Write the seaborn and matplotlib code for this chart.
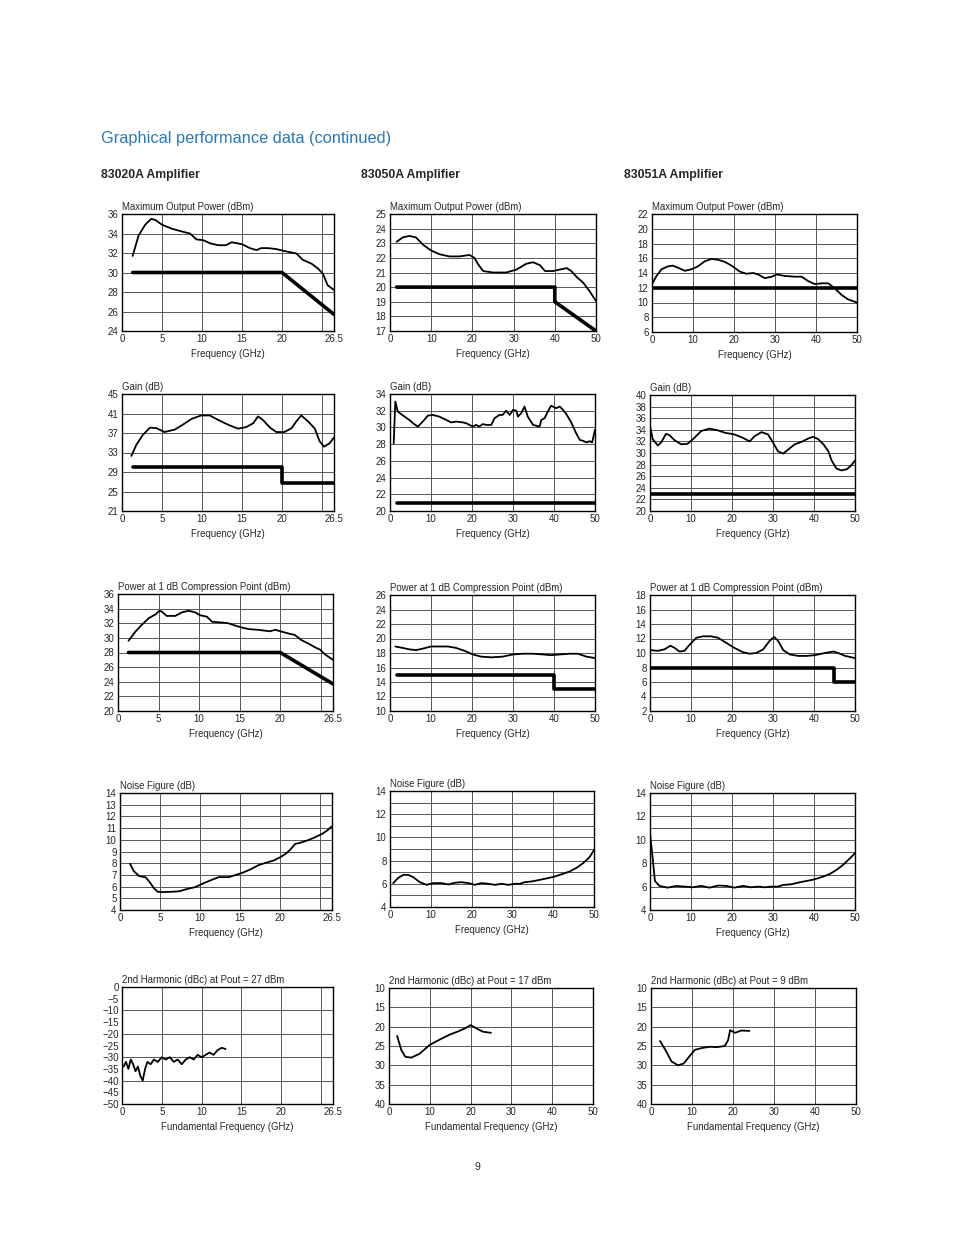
import numpy as np
import pandas as pd
import matplotlib
matplotlib.use("Agg")
import matplotlib.pyplot as plt
from matplotlib.ticker import FixedLocator
import seaborn as sns

sns.set_style("white")
plt.rcParams['font.family'] = ['Liberation Sans Narrow', 'Liberation Sans', 'DejaVu Sans']

# ---------------- DATA ----------------
# 83020A Maximum Output Power
a_mop_f = [1.33, 2.08, 2.9, 3.65, 4.15, 5.0, 6.2, 7.5, 8.5, 9.3, 10.2, 11.0, 12.0, 13.0, 13.7, 15.0, 16.0, 16.8, 17.4, 18.3, 19.3, 20.3, 21.8, 22.6, 23.7, 24.5, 25.1, 25.7, 26.5]
a_mop_v = [31.7, 33.8, 34.9, 35.5, 35.4, 34.9, 34.5, 34.2, 34.0, 33.4, 33.3, 33.0, 32.8, 32.8, 33.1, 32.9, 32.5, 32.3, 32.5, 32.5, 32.4, 32.2, 31.95, 31.3, 30.9, 30.4, 29.9, 28.7, 28.2]
a_mop_spec_f = [1.33, 20.0, 26.5]
a_mop_spec_v = [30.0, 30.0, 25.7]

# 83050A Maximum Output Power
b_mop_f = [1.6, 3.1, 4.7, 6.3, 8.0, 10.0, 12.0, 14.4, 16.9, 19.3, 20.5, 21.3, 22.6, 25.0, 28.2, 30.7, 33.1, 34.7, 36.4, 37.6, 39.6, 41.2, 42.9, 44.0, 45.3, 46.9, 48.5, 50.0]
b_mop_v = [23.1, 23.4, 23.5, 23.4, 22.9, 22.5, 22.25, 22.1, 22.1, 22.2, 22.0, 21.6, 21.1, 21.0, 21.0, 21.2, 21.6, 21.7, 21.5, 21.1, 21.1, 21.2, 21.3, 21.1, 20.7, 20.3, 19.7, 19.05]
b_mop_spec_f = [1.6, 40.0, 40.0, 50.0]
b_mop_spec_v = [20.0, 20.0, 19.0, 17.0]

# 83051A Maximum Output Power
c_mop_f = [0.0, 1.0, 2.3, 3.9, 5.1, 6.4, 8.0, 9.6, 11.2, 12.9, 14.5, 16.1, 17.8, 19.4, 21.4, 23.0, 24.7, 25.9, 27.5, 29.2, 30.4, 32.4, 34.9, 36.5, 38.1, 39.7, 41.4, 43.0, 44.6, 46.3, 47.9, 50.0]
c_mop_v = [12.5, 13.5, 14.5, 14.9, 15.0, 14.7, 14.3, 14.5, 14.9, 15.6, 15.9, 15.8, 15.5, 15.0, 14.2, 13.9, 14.0, 13.8, 13.3, 13.5, 13.8, 13.6, 13.5, 13.5, 12.9, 12.5, 12.6, 12.6, 11.9, 11.0, 10.4, 10.0]
c_mop_spec_f = [0.0, 50.0]
c_mop_spec_v = [12.0, 12.0]

# 83020A Gain
a_gain_f = [1.17, 1.8, 2.6, 3.5, 4.3, 5.3, 6.6, 7.6, 8.7, 9.9, 10.96, 12.0, 13.25, 14.5, 15.5, 16.4, 17.0, 17.6, 18.5, 19.3, 20.3, 21.2, 21.8, 22.4, 23.25, 24.1, 24.7, 25.25, 25.96, 26.5]
a_gain_v = [32.3, 34.6, 36.6, 38.1, 38.0, 37.2, 37.7, 38.7, 39.9, 40.6, 40.6, 39.7, 38.7, 37.9, 38.2, 39.0, 40.4, 39.7, 38.1, 37.2, 37.2, 38.0, 39.4, 40.6, 39.4, 37.9, 35.3, 34.2, 34.9, 36.1]
a_gain_spec_f = [1.33, 20.0, 20.0, 26.5]
a_gain_spec_v = [30.0, 30.0, 26.7, 26.7]

# 83050A Gain
b_gain_f = [0.9, 1.3, 1.9, 3.1, 4.7, 5.9, 6.8, 8.0, 9.2, 10.4, 12.0, 13.7, 14.9, 16.1, 17.8, 18.6, 19.4, 20.2, 21.0, 21.8, 22.6, 23.5, 24.7, 25.5, 26.7, 27.5, 28.3, 29.2, 30.0, 30.8, 31.2, 32.0, 32.8, 33.6, 34.9, 36.5, 36.9, 37.7, 38.5, 39.3, 40.5, 41.4, 42.2, 43.0, 44.2, 45.4, 46.3, 47.1, 47.9, 48.7, 49.3, 50.0]
b_gain_v = [28.1, 33.1, 31.9, 31.45, 30.9, 30.4, 30.1, 30.7, 31.4, 31.5, 31.3, 30.9, 30.6, 30.7, 30.6, 30.5, 30.3, 30.1, 30.3, 30.1, 30.4, 30.3, 30.3, 31.1, 31.5, 31.5, 32.0, 31.5, 32.1, 32.0, 31.3, 31.7, 32.5, 31.3, 30.3, 30.1, 30.9, 31.1, 31.9, 32.6, 32.3, 32.5, 32.1, 31.6, 30.6, 29.3, 28.5, 28.4, 28.2, 28.35, 28.2, 29.7]
b_gain_spec_f = [1.6, 50.0]
b_gain_spec_v = [21.0, 21.0]

# 83051A Gain
c_gain_f = [0.0, 0.65, 1.9, 2.7, 3.9, 4.7, 6.0, 7.6, 9.2, 10.8, 12.5, 14.5, 16.6, 18.2, 20.6, 22.7, 24.3, 25.5, 27.2, 28.8, 30.0, 31.2, 32.5, 33.7, 35.3, 36.9, 38.6, 39.8, 41.0, 42.3, 43.5, 44.3, 45.5, 46.7, 48.0, 49.0, 50.0]
c_gain_v = [34.65, 32.4, 31.3, 31.8, 33.3, 33.1, 32.2, 31.5, 31.6, 32.6, 33.8, 34.2, 33.9, 33.5, 33.2, 32.6, 32.0, 32.9, 33.6, 33.2, 31.8, 30.3, 29.9, 30.6, 31.5, 31.9, 32.5, 32.8, 32.4, 31.5, 30.3, 28.7, 27.3, 27.0, 27.2, 27.8, 28.7]
c_gain_spec_f = [0.0, 50.0]
c_gain_spec_v = [23.0, 23.0]

# 83020A P1dB
a_p1_f = [1.3, 2.1, 2.95, 3.8, 4.6, 5.1, 5.4, 6.0, 7.05, 7.9, 8.7, 9.5, 10.1, 10.95, 11.6, 12.8, 13.6, 14.4, 15.3, 16.1, 17.3, 18.7, 19.4, 20.2, 21.0, 21.8, 22.6, 23.5, 24.3, 24.9, 25.5, 26.5]
a_p1_v = [29.6, 30.8, 31.8, 32.7, 33.2, 33.7, 33.6, 33.0, 33.0, 33.5, 33.7, 33.5, 33.1, 32.9, 32.2, 32.1, 32.0, 31.7, 31.4, 31.2, 31.1, 30.9, 31.1, 30.85, 30.6, 30.4, 29.7, 29.2, 28.7, 28.4, 27.75, 27.0]
a_p1_spec_f = [1.3, 20.0, 26.5]
a_p1_spec_v = [28.0, 28.0, 23.7]

# 83050A P1dB
b_p1_f = [1.3, 3.1, 4.7, 6.4, 8.0, 10.0, 12.0, 14.1, 16.1, 18.2, 20.2, 22.2, 24.7, 27.5, 30.0, 32.4, 34.9, 37.3, 39.3, 41.4, 43.8, 45.8, 47.9, 50.0]
b_p1_v = [18.9, 18.7, 18.5, 18.4, 18.6, 18.9, 18.9, 18.9, 18.7, 18.3, 17.8, 17.5, 17.4, 17.5, 17.8, 17.9, 17.9, 17.8, 17.7, 17.8, 17.9, 17.9, 17.5, 17.3]
b_p1_spec_f = [1.6, 40.0, 40.0, 50.0]
b_p1_spec_v = [15.0, 15.0, 13.0, 13.0]

# 83051A P1dB
c_p1_f = [0.0, 1.9, 3.5, 5.0, 6.0, 7.2, 8.4, 9.6, 11.3, 12.9, 14.9, 16.6, 18.6, 20.6, 22.7, 24.3, 25.9, 27.6, 29.2, 30.3, 31.2, 32.5, 34.1, 36.1, 38.2, 40.2, 42.7, 44.7, 45.9, 47.6, 50.0]
c_p1_v = [10.4, 10.3, 10.5, 11.0, 10.7, 10.2, 10.3, 11.1, 12.1, 12.3, 12.3, 12.1, 11.4, 10.7, 10.1, 9.9, 10.0, 10.5, 11.7, 12.2, 11.7, 10.4, 9.8, 9.6, 9.6, 9.7, 10.0, 10.2, 10.0, 9.6, 9.3]
c_p1_spec_f = [0.0, 45.0, 45.0, 50.0]
c_p1_spec_v = [8.0, 8.0, 6.0, 6.0]

# 83020A Noise Figure
a_nf_f = [1.25, 1.75, 2.4, 3.2, 3.8, 4.2, 4.7, 5.3, 6.5, 7.4, 8.2, 9.4, 10.3, 11.3, 12.35, 13.6, 14.4, 15.3, 16.3, 17.3, 18.2, 19.2, 20.0, 20.7, 21.3, 21.9, 22.5, 23.4, 24.2, 25.25, 25.9, 26.5]
a_nf_v = [7.95, 7.3, 6.9, 6.8, 6.3, 5.9, 5.56, 5.53, 5.56, 5.6, 5.76, 5.96, 6.24, 6.53, 6.81, 6.81, 6.98, 7.18, 7.47, 7.83, 8.03, 8.23, 8.5, 8.8, 9.17, 9.65, 9.74, 9.94, 10.16, 10.5, 10.8, 11.16]

# 83050A Noise Figure
b_nf_f = [0.8, 2.0, 3.3, 4.5, 5.7, 7.3, 9.0, 10.6, 12.6, 14.3, 15.9, 17.5, 19.2, 20.8, 22.4, 24.1, 25.7, 27.3, 29.0, 30.6, 31.8, 33.0, 34.7, 36.7, 38.7, 40.4, 42.4, 44.0, 45.7, 47.3, 48.9, 50.0]
b_nf_v = [6.06, 6.51, 6.77, 6.77, 6.57, 6.14, 5.91, 6.06, 6.06, 5.94, 6.09, 6.14, 6.06, 5.91, 6.06, 6.0, 5.91, 6.0, 5.91, 6.0, 6.0, 6.14, 6.2, 6.34, 6.49, 6.63, 6.86, 7.06, 7.37, 7.77, 8.29, 8.91]

# 83051A Noise Figure
c_nf_f = [0.0, 0.65, 1.2, 2.3, 4.3, 6.4, 8.4, 10.4, 12.5, 14.5, 16.6, 18.6, 20.6, 22.7, 24.7, 26.3, 28.0, 29.6, 31.2, 32.5, 34.5, 36.5, 38.6, 40.2, 42.3, 43.9, 45.5, 47.1, 48.8, 50.0]
c_nf_v = [10.57, 8.43, 6.49, 6.06, 5.91, 6.06, 6.0, 5.94, 6.06, 5.91, 6.09, 6.06, 5.91, 6.06, 5.94, 6.0, 5.94, 6.0, 6.0, 6.14, 6.2, 6.37, 6.51, 6.63, 6.86, 7.09, 7.43, 7.86, 8.43, 8.86]

# 83020A 2nd Harmonic (dBc) at Pout = 27 dBm
a_h_f = [0.2, 0.5, 0.8, 1.1, 1.4, 1.7, 2.0, 2.3, 2.6, 2.9, 3.2, 3.6, 4.0, 4.5, 5.0, 5.5, 6.0, 6.5, 7.0, 7.5, 8.0, 8.5, 9.0, 9.5, 10.0, 10.5, 11.0, 11.5, 12.0, 12.5, 13.0]
a_h_v = [-34, -32, -35, -31, -33, -36, -34, -38, -40, -35, -32, -33, -31, -32, -30, -31, -30, -32, -31, -33, -31, -30, -31, -29, -30, -29, -28, -29, -27, -26, -26.5]

# 83050A 2nd Harmonic (dBc) at Pout = 17 dBm
b_h_f = [2.0, 3.0, 4.0, 5.5, 7.5, 10.0, 12.5, 15.0, 17.0, 18.5, 20.0, 21.5, 23.0, 25.0]
b_h_v = [22.4, 26.0, 27.8, 28.0, 27.0, 24.7, 23.3, 22.0, 21.2, 20.5, 19.6, 20.5, 21.3, 21.6]

# 83051A 2nd Harmonic (dBc) at Pout = 9 dBm
c_h_f = [2.2, 3.5, 5.0, 6.6, 8.0, 9.5, 10.7, 12.5, 14.4, 16.0, 18.0, 18.8, 19.3, 20.5, 22.0, 24.0]
c_h_v = [23.7, 26.0, 29.0, 30.0, 29.5, 27.5, 26.0, 25.5, 25.2, 25.3, 25.0, 23.5, 20.9, 21.6, 21.0, 21.1]

titles = ["83020A Amplifier", "83050A Amplifier", "83051A Amplifier"]
row_labels = ["Maximum Output Power (dBm)", "Gain (dB)", "Power at 1 dB Compression Point (dBm)", "Noise Figure (dB)"]
harm_labels = ["2nd Harmonic (dBc) at Pout = 27 dBm", "2nd Harmonic (dBc) at Pout = 17 dBm", "2nd Harmonic (dBc) at Pout = 9 dBm"]

x265_ticks = [0, 5, 10, 15, 20, 26.5]
x265_grid = [5, 10, 15, 20, 25]
x50_ticks = [0, 10, 20, 30, 40, 50]
x50_grid = [10, 20, 30, 40]

# ---------------- LAYOUT ----------------
W, H = 954, 1235
fig = plt.figure(figsize=(W / 100, H / 100), dpi=100)
fig.patch.set_facecolor("white")

def rect(l, r, t, b):
    return [l / W, 1 - b / H, (r - l) / W, (b - t) / H]

FS = 7.0
LFS = 6.9
blue = "#2878b8"

fig.text(101 / W, 1 - 138 / H, "Graphical performance data (continued)", color=blue,
         fontsize=11.8, va="center", ha="left")
for x, t in zip([101, 361, 624], titles):
    fig.text(x / W, 1 - 175 / H, t, fontsize=8.8, fontweight="bold", va="center", ha="left")
fig.text(477 / W, 1 - 1167 / H, "9", fontsize=7.5, va="center", ha="center")

def panel(box, xs, ys, spec_x, spec_y, xlim, xticks, xgrid, ylim, yticks, ygrid,
          label, xlabel="Frequency (GHz)", invert=False):
    ax = fig.add_axes(rect(*box))
    df = pd.DataFrame({"f": xs, "v": ys})
    sns.lineplot(data=df, x="f", y="v", ax=ax, color="black", lw=1.3,
                 sort=False, estimator=None, zorder=3)
    if spec_x is not None:
        ds = pd.DataFrame({"f": spec_x, "v": spec_y})
        sns.lineplot(data=ds, x="f", y="v", ax=ax, color="black", lw=2.6,
                     sort=False, estimator=None, zorder=3)
    ax.set_xlim(*xlim)
    ax.set_ylim(*ylim)
    if invert:
        ax.invert_yaxis()
    ax.set_xticks(xticks)
    ax.set_xticklabels([("%g" % t) for t in xticks])
    ax.set_yticks(yticks)
    ax.set_yticklabels([("%g" % t).replace("-", "\u2212") for t in yticks])
    ax.xaxis.remove_overlapping_locs = False
    ax.yaxis.remove_overlapping_locs = False
    ax.xaxis.set_minor_locator(FixedLocator(xgrid))
    ax.yaxis.set_minor_locator(FixedLocator(ygrid))
    ax.grid(False, which="major")
    ax.grid(True, which="minor", color="#555555", lw=0.7)
    ax.tick_params(which="both", length=0, labelsize=FS, pad=2.5)
    ax.set_xlabel(xlabel, fontsize=LFS, labelpad=3)
    ax.set_ylabel("")
    for s in ax.spines.values():
        s.set_color("black")
        s.set_linewidth(1.0)
        s.set_visible(True)
    ax.text(0.0, 1.02, label, transform=ax.transAxes, fontsize=LFS,
            ha="left", va="bottom")
    ax.set_facecolor("white")
    return ax

# Row 1: Maximum Output Power
panel((122, 334, 214, 331), a_mop_f, a_mop_v, a_mop_spec_f, a_mop_spec_v, (0, 26.5), x265_ticks, x265_grid,
      (24, 36), list(range(24, 37, 2)), list(range(26, 36, 2)), row_labels[0])
panel((390, 596, 214, 331), b_mop_f, b_mop_v, b_mop_spec_f, b_mop_spec_v, (0, 50), x50_ticks, x50_grid,
      (17, 25), list(range(17, 26)), list(range(18, 25)), row_labels[0])
panel((652, 857, 214, 332), c_mop_f, c_mop_v, c_mop_spec_f, c_mop_spec_v, (0, 50), x50_ticks, x50_grid,
      (6, 22), list(range(6, 23, 2)), list(range(8, 22, 2)), row_labels[0])

# Row 2: Gain
panel((122, 334, 394, 511), a_gain_f, a_gain_v, a_gain_spec_f, a_gain_spec_v, (0, 26.5), x265_ticks, x265_grid,
      (21, 45), list(range(21, 46, 4)), list(range(25, 45, 4)), row_labels[1])
panel((390, 595, 394, 511), b_gain_f, b_gain_v, b_gain_spec_f, b_gain_spec_v, (0, 50), x50_ticks, x50_grid,
      (20, 34), list(range(20, 35, 2)), list(range(22, 34, 2)), row_labels[1])
panel((650, 855, 395, 511), c_gain_f, c_gain_v, c_gain_spec_f, c_gain_spec_v, (0, 50), x50_ticks, x50_grid,
      (20, 40), list(range(20, 41, 2)), list(range(22, 40, 2)), row_labels[1])

# Row 3: P1dB
panel((118, 333, 594, 711), a_p1_f, a_p1_v, a_p1_spec_f, a_p1_spec_v, (0, 26.5), x265_ticks, x265_grid,
      (20, 36), list(range(20, 37, 2)), list(range(22, 36, 2)), row_labels[2])
panel((390, 595, 595, 711), b_p1_f, b_p1_v, b_p1_spec_f, b_p1_spec_v, (0, 50), x50_ticks, x50_grid,
      (10, 26), list(range(10, 27, 2)), list(range(12, 26, 2)), row_labels[2])
panel((650, 855, 595, 711), c_p1_f, c_p1_v, c_p1_spec_f, c_p1_spec_v, (0, 50), x50_ticks, x50_grid,
      (2, 18), list(range(2, 19, 2)), list(range(4, 18, 2)), row_labels[2])

# Row 4: Noise Figure
panel((120, 332, 793, 910), a_nf_f, a_nf_v, None, None, (0, 26.5), x265_ticks, x265_grid,
      (4, 14), list(range(4, 15)), list(range(5, 14)), row_labels[3])
panel((390, 594, 791, 907), b_nf_f, b_nf_v, None, None, (0, 50), x50_ticks, x50_grid,
      (4, 14), list(range(4, 15, 2)), list(range(5, 14)), row_labels[3])
panel((650, 855, 793, 910), c_nf_f, c_nf_v, None, None, (0, 50), x50_ticks, x50_grid,
      (4, 14), list(range(4, 15, 2)), list(range(5, 14)), row_labels[3])

# Row 5: 2nd Harmonic
panel((122, 333, 987, 1104), a_h_f, a_h_v, None, None, (0, 26.5), x265_ticks, x265_grid,
      (-50, 0), list(range(-50, 1, 5)), list(range(-40, 0, 10)), harm_labels[0],
      xlabel="Fundamental Frequency (GHz)")
panel((389, 593, 988, 1104), b_h_f, b_h_v, None, None, (0, 50), x50_ticks, x50_grid,
      (10, 40), list(range(10, 41, 5)), list(range(15, 40, 5)), harm_labels[1],
      xlabel="Fundamental Frequency (GHz)", invert=True)
panel((651, 856, 988, 1104), c_h_f, c_h_v, None, None, (0, 50), x50_ticks, x50_grid,
      (10, 40), list(range(10, 41, 5)), list(range(15, 40, 5)), harm_labels[2],
      xlabel="Fundamental Frequency (GHz)", invert=True)

fig.savefig("out.png", dpi=100, facecolor="white")
